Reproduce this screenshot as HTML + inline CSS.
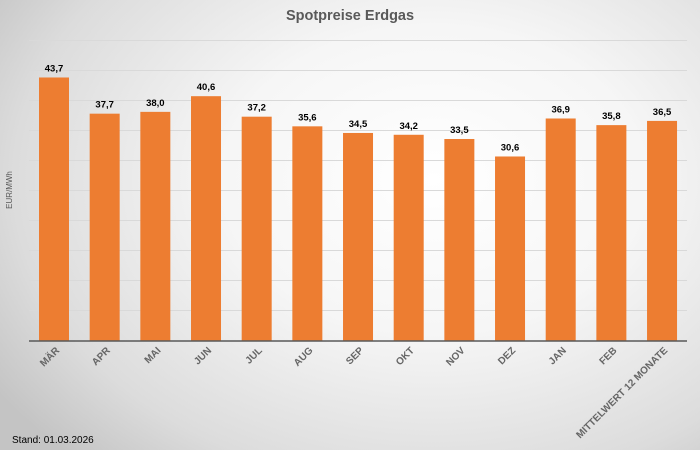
<!DOCTYPE html>
<html><head><meta charset="utf-8"><style>
html,body{margin:0;padding:0}
body{width:700px;height:450px;overflow:hidden;background:radial-gradient(ellipse 75% 85% at 62% 40%,#ffffff 0%,#f6f6f6 40%,#dcdcdc 80%,#c4c4c4 100%);font-family:"Liberation Sans",sans-serif}
</style></head><body>
<svg width="700" height="450" xmlns="http://www.w3.org/2000/svg" style="position:absolute;left:0;top:0">
<g stroke="#d9d9d9" stroke-width="1">
<line x1="29" x2="687" y1="40.5" y2="40.5"/><line x1="29" x2="687" y1="70.5" y2="70.5"/>
<line x1="29" x2="687" y1="100.5" y2="100.5"/><line x1="29" x2="687" y1="130.5" y2="130.5"/>
<line x1="29" x2="687" y1="160.5" y2="160.5"/><line x1="29" x2="687" y1="190.5" y2="190.5"/>
<line x1="29" x2="687" y1="220.5" y2="220.5"/><line x1="29" x2="687" y1="250.5" y2="250.5"/>
<line x1="29" x2="687" y1="280.5" y2="280.5"/><line x1="29" x2="687" y1="310.5" y2="310.5"/>
</g>
<g id="bars" fill="#ED7D31"></g>
<line x1="29" x2="687" y1="341" y2="341" stroke="#595959" stroke-width="1.5"/>
<g id="vals" font-size="9.5" font-weight="bold" fill="#000" text-anchor="middle"></g>
<g id="cats" font-size="10" font-weight="bold" fill="#666" text-anchor="end"></g>
<text x="350" y="20" font-size="14.5" font-weight="bold" fill="#595959" text-anchor="middle">Spotpreise Erdgas</text>
<text transform="translate(12,190) rotate(-90)" font-size="8" fill="#595959" text-anchor="middle">EUR/MWh</text>
<text x="12" y="443" font-size="10" fill="#000">Stand: 01.03.2026</text>
</svg>
<script>
var d=[["MÄR",43.7],["APR",37.7],["MAI",38.0],["JUN",40.6],["JUL",37.2],["AUG",35.6],["SEP",34.5],["OKT",34.2],["NOV",33.5],["DEZ",30.6],["JAN",36.9],["FEB",35.8],["MITTELWERT 12 MONATE",36.5]];
var ns="http://www.w3.org/2000/svg",b=document.getElementById("bars"),v=document.getElementById("vals"),c=document.getElementById("cats");
d.forEach(function(e,i){var cx=54+i*50.67,h=e[1]*6.03;
var r=document.createElementNS(ns,"rect");r.setAttribute("x",cx-15);r.setAttribute("width",30);r.setAttribute("y",341-h);r.setAttribute("height",h);b.appendChild(r);
var t=document.createElementNS(ns,"text");t.setAttribute("x",cx);t.setAttribute("y",341-h-6);t.textContent=e[1].toFixed(1).replace(".",",");v.appendChild(t);
var l=document.createElementNS(ns,"text");l.setAttribute("transform","translate("+(cx+6)+",351) rotate(-45)");l.textContent=e[0];c.appendChild(l);});
</script>
</body></html>
